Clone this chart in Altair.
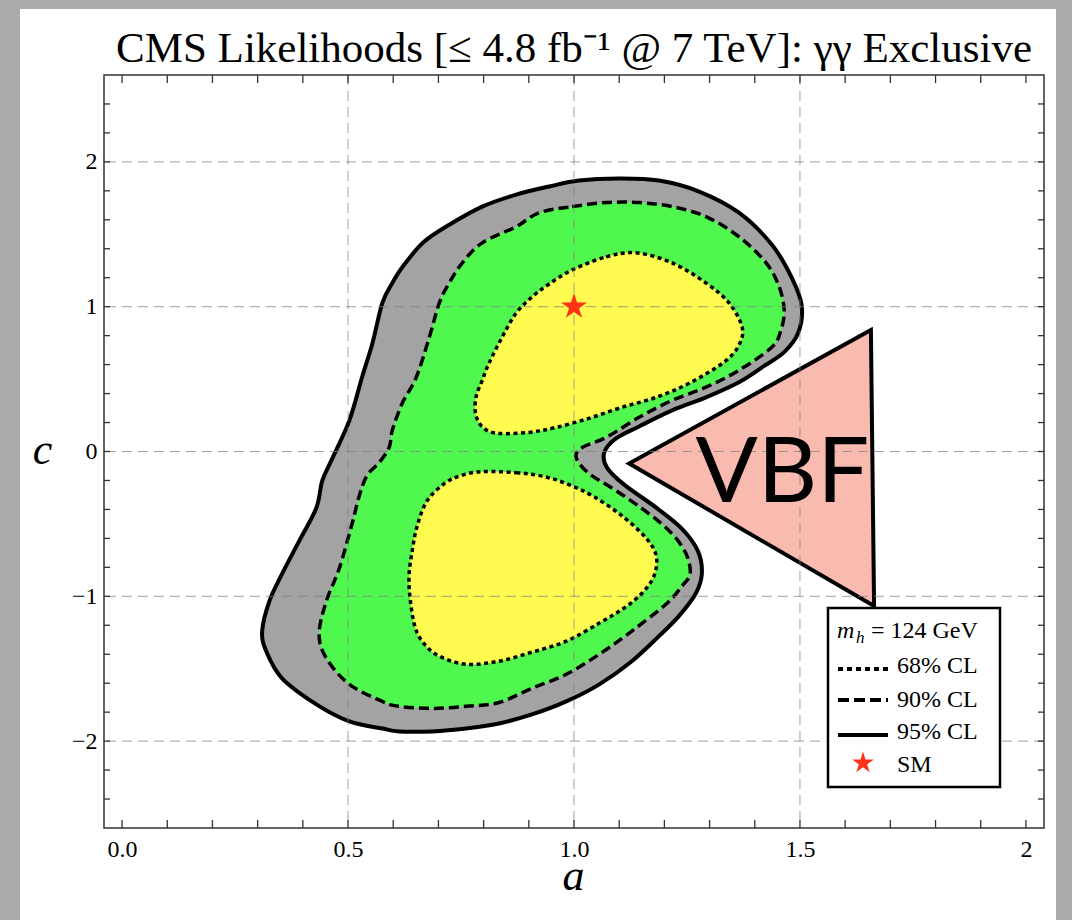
import altair as alt
import pandas as pd

# ---------------- data ----------------
cl95_a = [0.945, 1.011, 1.100, 1.188, 1.277, 1.365, 1.438, 1.482, 1.504, 1.496,
          1.465, 1.420, 1.365, 1.292, 1.217, 1.144, 1.093, 1.067, 1.073, 1.111,
          1.182, 1.239, 1.274, 1.283, 1.270, 1.232, 1.188, 1.128, 1.056, 0.983,
          0.907, 0.834, 0.761, 0.686, 0.613, 0.576, 0.503, 0.430, 0.354, 0.319,
          0.310, 0.326, 0.354, 0.392, 0.430, 0.443, 0.465, 0.503, 0.531, 0.554,
          0.576, 0.598, 0.624, 0.668, 0.724, 0.797, 0.872]
cl95_c = [1.830, 1.871, 1.885, 1.871, 1.795, 1.649, 1.428, 1.199, 1.005, 0.818,
          0.686, 0.589, 0.478, 0.374, 0.284, 0.173, 0.090, -0.007, -0.111, -0.229,
          -0.388, -0.534, -0.686, -0.839, -0.977, -1.137, -1.275, -1.448, -1.608, -1.726,
          -1.816, -1.878, -1.913, -1.933, -1.933, -1.913, -1.864, -1.746, -1.566, -1.379,
          -1.240, -1.033, -0.845, -0.617, -0.388, -0.201, -0.049, 0.215, 0.513, 0.748,
          1.026, 1.164, 1.289, 1.448, 1.566, 1.691, 1.774]

cl90_a = [0.923, 0.996, 1.071, 1.144, 1.217, 1.292, 1.365, 1.425, 1.454, 1.465,
          1.458, 1.438, 1.365, 1.292, 1.217, 1.144, 1.071, 1.018, 1.005, 1.033,
          1.093, 1.166, 1.217, 1.248, 1.257, 1.239, 1.204, 1.128, 1.056, 0.983,
          0.907, 0.834, 0.761, 0.686, 0.613, 0.576, 0.503, 0.452, 0.436, 0.452,
          0.481, 0.509, 0.525, 0.542, 0.569, 0.591, 0.598, 0.620, 0.651, 0.680,
          0.702, 0.724, 0.753, 0.797, 0.872]
cl90_c = [1.649, 1.691, 1.719, 1.719, 1.691, 1.622, 1.483, 1.303, 1.137, 0.977,
          0.839, 0.721, 0.561, 0.444, 0.353, 0.236, 0.097, 0.028, -0.042, -0.152,
          -0.270, -0.430, -0.568, -0.707, -0.845, -0.929, -1.053, -1.240, -1.400, -1.538,
          -1.635, -1.733, -1.760, -1.774, -1.760, -1.726, -1.608, -1.428, -1.261, -1.033,
          -0.804, -0.499, -0.305, -0.166, -0.076, 0.028, 0.146, 0.333, 0.513, 0.790,
          1.026, 1.164, 1.303, 1.441, 1.552]

cl68_up_a = [0.996, 1.071, 1.137, 1.217, 1.292, 1.343, 1.372, 1.365, 1.332, 1.255,
             1.182, 1.106, 1.033, 0.960, 0.901, 0.834, 0.801, 0.783, 0.783, 0.797,
             0.812, 0.841, 0.872, 0.907, 0.945]
cl68_up_c = [1.254, 1.344, 1.372, 1.303, 1.164, 1.026, 0.859, 0.735, 0.617, 0.471,
             0.374, 0.305, 0.229, 0.166, 0.132, 0.125, 0.159, 0.249, 0.374, 0.492,
             0.610, 0.790, 0.956, 1.067, 1.157]

cl68_lo_a = [0.797, 0.872, 0.934, 0.989, 1.044, 1.106, 1.159, 1.182, 1.177, 1.151,
             1.111, 1.056, 0.983, 0.907, 0.834, 0.761, 0.702, 0.669, 0.649, 0.638,
             0.635, 0.642, 0.653, 0.675, 0.713, 0.750]
cl68_lo_c = [-0.139, -0.146, -0.173, -0.229, -0.312, -0.444, -0.596, -0.721, -0.859, -0.977,
             -1.081, -1.185, -1.310, -1.386, -1.448, -1.469, -1.414, -1.331, -1.220, -1.033,
             -0.859, -0.686, -0.513, -0.340, -0.222, -0.166]

vbf_a = [1.657, 1.122, 1.664]
vbf_c = [0.839, -0.083, -1.067]
vbf_label = ["VBF"]
vbf_label_a = [1.461]
vbf_label_c = [-0.349]

sm_a = [1.0]
sm_c = [1.0]

x_major = [0.0, 0.5, 1.0, 1.5, 2.0]
y_major = [-2, -1, 0, 1, 2]
x_grid = [0.5, 1.0, 1.5]
y_grid = [-2, -1, 0, 1, 2]
x_minor = [0.0, 0.1, 0.2, 0.3, 0.4, 0.5, 0.6, 0.7, 0.8, 0.9, 1.0,
           1.1, 1.2, 1.3, 1.4, 1.5, 1.6, 1.7, 1.8, 1.9, 2.0]
y_minor = [-2.4, -2.2, -2.0, -1.8, -1.6, -1.4, -1.2, -1.0, -0.8, -0.6, -0.4, -0.2, 0.0,
           0.2, 0.4, 0.6, 0.8, 1.0, 1.2, 1.4, 1.6, 1.8, 2.0, 2.2, 2.4]

title_text = "CMS Likelihoods [\u2264 4.8 fb\u207b\u00b9 @ 7 TeV]: \u03b3\u03b3 Exclusive"
legend_labels = ["68% CL", "90% CL", "95% CL", "SM"]

# ---------------- frames ----------------
def poly(a, c):
    return pd.DataFrame({"a": a, "c": c, "i": list(range(len(a)))})

df95 = poly(cl95_a, cl95_c)
df90 = poly(cl90_a, cl90_c)
df68 = pd.concat([poly(cl68_up_a, cl68_up_c).assign(island="up"),
                  poly(cl68_lo_a, cl68_lo_c).assign(island="lo")])
dfvbf = poly(vbf_a, vbf_c)
dfvbf_txt = pd.DataFrame({"a": vbf_label_a, "c": vbf_label_c, "t": vbf_label})
dfsm = pd.DataFrame({"a": sm_a, "c": sm_c})
dfxg = pd.DataFrame({"a": x_grid})
dfyg = pd.DataFrame({"c": y_grid})
dfxt = pd.DataFrame({"a": x_minor})
dfyt = pd.DataFrame({"c": y_minor})
one = pd.DataFrame({"k": [0]})

W, H = 940, 753
SERIF = "Liberation Serif"

xs = alt.Scale(domain=[-0.04, 2.04], nice=False, zero=False)
ys = alt.Scale(domain=[-2.6, 2.6], nice=False, zero=False)

x_axis = alt.Axis(values=x_major,
                  labelExpr="datum.value == 2 ? '2' : format(datum.value, '.1f')",
                  title="a", titleFont=SERIF, titleFontStyle="italic", titleFontSize=44,
                  titleFontWeight="normal", titleColor="black",
                  titleX=469, titleY=61, titleAlign="center", titleBaseline="alphabetic",
                  labelFont=SERIF, labelFontSize=24, labelColor="black",
                  labelPadding=9, labelBaseline="top", labelFlush=False, labelOverlap=False,
                  ticks=False, tickSize=0, domain=False, grid=False, zindex=1)
y_axis = alt.Axis(values=y_major, format="d",
                  title="c", titleFont=SERIF, titleFontStyle="italic", titleFontSize=44,
                  titleFontWeight="normal", titleColor="black", titleAngle=0,
                  titleX=-62, titleY=388, titleAlign="center", titleBaseline="alphabetic",
                  labelFont=SERIF, labelFontSize=24, labelColor="black",
                  labelPadding=7, labelFlush=False, labelOverlap=False,
                  ticks=False, tickSize=0, domain=False, grid=False, zindex=1)

X = alt.X("a:Q", scale=xs, axis=x_axis)
Y = alt.Y("c:Q", scale=ys, axis=y_axis)

star = ("M0,-1L0.2245,-0.309L0.951,-0.309L0.363,0.118L0.588,0.809L0,0.382"
        "L-0.588,0.809L-0.363,0.118L-0.951,-0.309L-0.2245,-0.309Z")

layers = []

# white panel
layers.append(alt.Chart(one).mark_rect(fill="white").encode(
    x=alt.value(-84), x2=alt.value(952), y=alt.value(-66), y2=alt.value(845)))

# 95% CL
layers.append(alt.Chart(df95).mark_line(
    fill="#a3a3a3", stroke="black", strokeWidth=4, interpolate="cardinal-closed",
    strokeJoin="round").encode(x=X, y=Y, order="i:Q"))
# 90% CL
layers.append(alt.Chart(df90).mark_line(
    fill="#4ff74f", stroke="black", strokeWidth=3.5, strokeDash=[10, 5],
    interpolate="cardinal-closed").encode(x=X, y=Y, order="i:Q"))
# 68% CL
layers.append(alt.Chart(df68).mark_line(
    fill="#fffa50", stroke="black", strokeWidth=3.5, strokeDash=[4, 3.5],
    interpolate="cardinal-closed").encode(x=X, y=Y, order="i:Q", detail="island:N"))
# VBF triangle
layers.append(alt.Chart(dfvbf).mark_line(
    fill="#f9bab0", stroke="black", strokeWidth=4, interpolate="linear-closed",
    strokeJoin="miter").encode(x=X, y=Y, order="i:Q"))

# grid
layers.append(alt.Chart(dfxg).mark_rule(color="#808080", opacity=0.75, strokeWidth=1,
                                        strokeDash=[10, 6]).encode(x=X))
layers.append(alt.Chart(dfyg).mark_rule(color="#808080", opacity=0.75, strokeWidth=1,
                                        strokeDash=[10, 6]).encode(y=Y))

# inward ticks on all four sides
tick_style = dict(color="#333333", strokeWidth=1.3)
layers.append(alt.Chart(dfxt).mark_rule(**tick_style).encode(
    x=X, y=alt.value(H - 8), y2=alt.value(H)))
layers.append(alt.Chart(dfxt).mark_rule(**tick_style).encode(
    x=X, y=alt.value(0), y2=alt.value(8)))
layers.append(alt.Chart(dfyt).mark_rule(**tick_style).encode(
    y=Y, x=alt.value(0), x2=alt.value(6)))
layers.append(alt.Chart(dfyt).mark_rule(**tick_style).encode(
    y=Y, x=alt.value(W - 6), x2=alt.value(W)))

# frame
layers.append(alt.Chart(one).mark_rect(fillOpacity=0, stroke="#333333", strokeWidth=1.5).encode(
    x=alt.value(0), x2=alt.value(W), y=alt.value(0), y2=alt.value(H)))

# VBF label
layers.append(alt.Chart(dfvbf_txt).mark_text(
    font="Lato", fontSize=92, align="center", baseline="alphabetic", color="black").encode(
    x=X, y=Y, text="t:N"))

# SM star
layers.append(alt.Chart(dfsm).mark_point(
    shape=star, filled=True, color="#ff3318", size=760, opacity=1, strokeWidth=0).encode(x=X, y=Y))

# legend box
layers.append(alt.Chart(one).mark_rect(fill="white", stroke="black", strokeWidth=2.5).encode(
    x=alt.value(724), x2=alt.value(896), y=alt.value(533), y2=alt.value(712)))
layers.append(alt.Chart(one).mark_text(
    text="m", font=SERIF, fontStyle="italic", fontSize=24, align="left",
    baseline="alphabetic", color="black").encode(x=alt.value(733), y=alt.value(563)))
layers.append(alt.Chart(one).mark_text(
    text="h", font=SERIF, fontStyle="italic", fontSize=17, align="left",
    baseline="alphabetic", color="black").encode(x=alt.value(752), y=alt.value(568)))
layers.append(alt.Chart(one).mark_text(
    text="= 124 GeV", font=SERIF, fontSize=24, align="left",
    baseline="alphabetic", color="black").encode(x=alt.value(767), y=alt.value(563)))

line_y = [594, 625, 660]
line_dash = [[5, 4], [11, 5], [1, 0]]
for ly, dash in zip(line_y, line_dash):
    layers.append(alt.Chart(one).mark_rule(color="black", strokeWidth=4, strokeDash=dash).encode(
        x=alt.value(734), x2=alt.value(784), y=alt.value(ly)))
text_y = [598, 632, 664, 697]
for lbl, ty in zip(legend_labels, text_y):
    layers.append(alt.Chart(one).mark_text(
        text=lbl, font=SERIF, fontSize=24, align="left", baseline="alphabetic",
        color="black").encode(x=alt.value(793), y=alt.value(ty)))
layers.append(alt.Chart(one).mark_point(
    shape=star, filled=True, color="#ff3318", size=520, opacity=1, strokeWidth=0).encode(
    x=alt.value(759), y=alt.value(688)))

# title
layers.append(alt.Chart(one).mark_text(
    text=title_text, font=SERIF, fontSize=43, align="center", baseline="alphabetic",
    color="black").encode(x=alt.value(W / 2), y=alt.value(-13)))

chart = alt.layer(*layers).properties(
    width=W, height=H,
    padding={"left": 104, "top": 75, "right": 28, "bottom": 92},
    autosize=alt.AutoSizeParams(type="none"),
    background="#aaaaaa",
).configure_view(stroke=None)

chart.save("out.html", embed_options={"renderer": "svg", "actions": False})
